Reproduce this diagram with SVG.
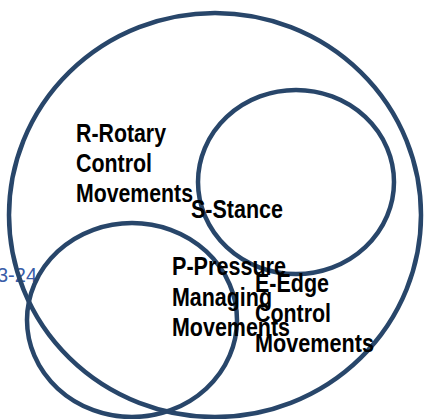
<svg xmlns="http://www.w3.org/2000/svg" width="425" height="419" viewBox="0 0 425 419">
<style>
.c{fill:none;stroke:#28466A;stroke-width:4.5}
.t{font-family:"Liberation Sans",Arial,sans-serif;font-weight:bold;font-size:25px;fill:#000}
.n{font-family:"Liberation Sans",Arial,sans-serif;font-size:20px;fill:#3A5DA8}
</style>
<rect width="425" height="419" fill="#fff"/>
<text class="n" x="-3" y="282">3-24</text>
<g id="outer">
<ellipse class="c" cx="215" cy="215" rx="206" ry="202"/>
</g>
<g id="stance">
<ellipse class="c" cx="296" cy="182" rx="98" ry="92"/>
</g>
<g id="pressure">
<ellipse class="c" cx="132" cy="320" rx="105" ry="97"/>
</g>
<g id="connectors"></g>
<g id="label-r">
<text class="t" x="76" y="142" textLength="90" lengthAdjust="spacingAndGlyphs">R-Rotary</text>
<text class="t" x="76" y="172" textLength="76" lengthAdjust="spacingAndGlyphs">Control</text>
<text class="t" x="76" y="202" textLength="117" lengthAdjust="spacingAndGlyphs">Movements</text>
</g>
<g id="label-s">
<text class="t" x="191" y="218" textLength="92" lengthAdjust="spacingAndGlyphs">S-Stance</text>
</g>
<g id="label-p">
<text class="t" x="172" y="275" textLength="114" lengthAdjust="spacingAndGlyphs">P-Pressure</text>
<text class="t" x="172" y="306" textLength="100" lengthAdjust="spacingAndGlyphs">Managing</text>
<text class="t" x="172" y="336" textLength="118" lengthAdjust="spacingAndGlyphs">Movements</text>
</g>
<g id="label-e">
<text class="t" x="255" y="292" textLength="74" lengthAdjust="spacingAndGlyphs">E-Edge</text>
<text class="t" x="255" y="322" textLength="76" lengthAdjust="spacingAndGlyphs">Control</text>
<text class="t" x="255" y="352" textLength="119" lengthAdjust="spacingAndGlyphs">Movements</text>
</g>
</svg>
